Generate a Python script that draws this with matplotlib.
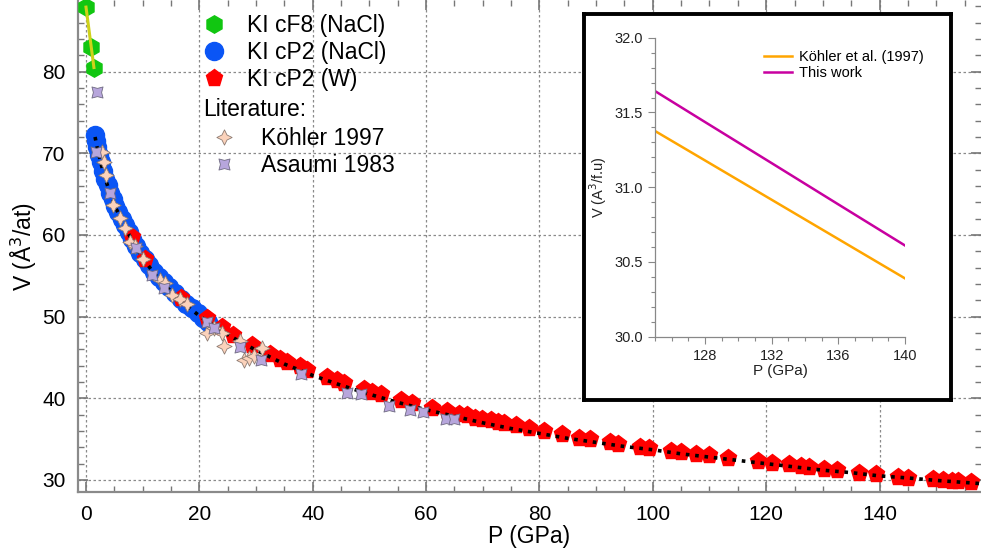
import numpy as np
import matplotlib
matplotlib.use("Agg")
import matplotlib.pyplot as plt
from matplotlib.path import Path
from matplotlib.lines import Line2D

plt.rcParams['font.family'] = ['Liberation Sans', 'DejaVu Sans']

# ---------------- data ----------------
cf8_P = [0.0, 0.9, 1.4]
cf8_V = [87.9, 83.0, 80.5]

cp2nacl_P = [1.6, 1.8, 2.0, 2.3, 2.6, 3.0, 3.4, 3.8, 4.2, 4.7, 5.2, 5.7, 6.3, 6.9, 7.5,
             8.2, 8.9, 9.6, 10.4, 11.2, 12.0, 12.9, 13.8, 14.7, 15.7, 16.7, 17.7, 18.7,
             19.7, 20.7, 21.5]
cp2nacl_V = [72.3, 71.5, 70.8, 69.8, 68.9, 67.8, 66.9, 66.1, 65.2, 64.4, 63.5, 62.8, 62.0,
             61.2, 60.4, 59.5, 58.6, 57.8, 57.0, 56.3, 55.5, 54.8, 54.2, 53.6, 52.9, 52.2,
             51.5, 51.0, 50.4, 49.8, 49.3]

cp2w_P = [8.1, 10.4, 16.8, 21.4, 24.0, 26.0, 29.3, 32.5, 34.3, 35.5, 37.8, 39.0, 42.5, 44.3,
          45.5, 49.0, 50.5, 52.0, 55.5, 57.5, 61.1, 63.7, 65.8, 67.3, 68.7, 69.9, 71.4, 72.6,
          73.7, 75.8, 78.1, 80.8, 83.9, 87.0, 89.0, 92.5, 93.8, 97.8, 99.3, 103.2, 104.9,
          107.6, 110.0, 113.3, 118.5, 121.0, 124.1, 126.1, 127.6, 130.2, 132.5, 136.3, 139.4,
          143.2, 145.1, 149.4, 151.2, 152.7, 153.8, 156.2]
cp2w_V = [59.8, 57.0, 52.3, 49.8, 48.7, 47.8, 46.5, 45.4, 44.8, 44.5, 43.9, 43.5, 42.6, 42.2,
          41.9, 41.1, 40.8, 40.5, 39.8, 39.4, 38.8, 38.4, 38.1, 37.9, 37.6, 37.5, 37.3, 37.1,
          37.0, 36.7, 36.4, 36.0, 35.6, 35.2, 35.0, 34.6, 34.4, 34.1, 33.9, 33.6, 33.4,
          33.2, 33.0, 32.7, 32.3, 32.1, 31.9, 31.7, 31.6, 31.4, 31.2, 30.9, 30.7,
          30.4, 30.3, 30.1, 30.0, 29.9, 29.9, 29.7]

fit_P = [1.6, 2, 3, 4, 5, 6, 7, 8, 9, 10, 12, 14, 16, 18, 20, 22.5, 25, 27.5, 30, 35, 40, 45,
         50, 55, 60, 65, 70, 75, 80, 85, 90, 95, 100, 105, 110, 115, 120, 125, 130, 135, 140,
         145, 150, 155, 158]
fit_V = [72.0, 70.6, 67.8, 65.6, 63.7, 62.2, 60.8, 59.5, 58.3, 57.2, 55.3, 53.8, 52.4, 51.2,
         50.1, 48.9, 47.8, 46.8, 45.9, 44.2, 42.8, 41.6, 40.5, 39.5, 38.6, 37.8, 37.0, 36.3,
         35.7, 35.1, 34.6, 34.1, 33.7, 33.2, 32.8, 32.4, 32.0, 31.6, 31.2, 30.9, 30.5,
         30.25, 29.95, 29.7, 29.55]

kohler_P = [2.8, 3.1, 3.6, 4.8, 6.0, 6.9, 7.8, 8.7, 10.1, 13.1, 14.0, 15.1, 16.6, 17.8, 21.3,
            22.5, 24.0, 24.3, 27.2, 27.8, 28.7, 29.6, 31.0]
kohler_V = [70.1, 68.9, 67.4, 63.7, 62.1, 60.9, 59.2, 58.6, 57.1, 54.5, 54.1, 52.6, 52.1, 51.5,
            48.0, 48.6, 48.0, 46.4, 47.0, 44.7, 44.9, 45.2, 46.1]

asaumi_P = [1.9, 1.7, 4.2, 8.9, 11.6, 13.7, 21.4, 22.5, 27.1, 30.8, 37.9, 46.1, 48.6, 53.5,
            57.1, 59.5, 63.5, 65.0]
asaumi_V = [77.5, 70.1, 65.1, 58.4, 55.1, 53.5, 49.3, 48.6, 46.3, 44.7, 43.0, 40.6, 40.5, 39.1,
            38.6, 38.3, 37.5, 37.5]

inset_P = [125, 128, 132, 136, 140]
inset_kohler = [31.376, 31.179, 30.916, 30.653, 30.39]
inset_this = [31.643, 31.436, 31.161, 30.885, 30.61]

# ---------------- markers ----------------
star4 = Path([(0, 1), (0.33, 0.33), (1, 0), (0.33, -0.33), (0, -1), (-0.33, -0.33),
              (-1, 0), (-0.33, 0.33), (0, 1)], closed=True)
sq4 = Path([(1, 1), (0, 0.74), (-1, 1), (-0.74, 0), (-1, -1), (0, -0.74), (1, -1),
            (0.74, 0), (1, 1)], closed=True)

GREEN = '#11c611'
BLUE = '#0a55f5'
RED = '#ff0000'
PEACH = '#fbd2bb'
LAV = '#b7a6dc'

fig = plt.figure(figsize=(9.81, 5.53), dpi=100)
ax = fig.add_axes([78 / 981, 1 - 492 / 553, 1 - 78 / 981, 492 / 553])
ax.set_xlim(-1.41, 157.9)
ax.set_ylim(28.53, 88.77)

ax.plot(cp2nacl_P, cp2nacl_V, ls='none', marker='o', ms=13, mfc=BLUE, mec=BLUE, zorder=2)
ax.plot(cp2w_P, cp2w_V, ls='none', marker='p', ms=12.5, mfc=RED, mec=RED, zorder=3)
ax.plot(fit_P, fit_V, ls=(0, (1, 1.6)), color='black', lw=2.6, zorder=4)
ax.plot(kohler_P, kohler_V, ls='none', marker=star4, ms=11, mfc=PEACH, mec='#8d7b72',
        mew=0.6, zorder=5)
ax.plot(asaumi_P, asaumi_V, ls='none', marker=sq4, ms=8, mfc=LAV, mec='#6f6a82',
        mew=0.6, zorder=6)
ax.plot(cf8_P, cf8_V, ls='none', marker='h', ms=12.5, mfc=GREEN, mec=GREEN, zorder=6)
ax.plot([cf8_P[0], cf8_P[-1]], [cf8_V[0], cf8_V[-1]], color='#cfd21a', lw=2.2, zorder=7)

ax.set_xticks(np.arange(0, 141, 20))
ax.set_xticks(np.arange(0, 158, 5), minor=True)
ax.set_yticks(np.arange(30, 81, 10))
ax.set_yticks(np.arange(30, 89, 2), minor=True)
ax.grid(True, which='major', ls=(0, (2, 2)), color='#8a8a8a', lw=0.9)
ax.set_axisbelow(True)
for s in ['top', 'right']:
    ax.spines[s].set_visible(False)
for s in ['left', 'bottom']:
    ax.spines[s].set_color('#8a8a8a')
    ax.spines[s].set_linewidth(1.6)
ax.tick_params(which='both', direction='in', color='#777777', top=True, right=True,
               labelsize=15, pad=9)
ax.tick_params(which='major', length=7, width=1.2)
ax.tick_params(which='minor', length=4, width=1.0)
ax.set_xlabel('P (GPa)', fontsize=16.5, labelpad=1)
ax.set_ylabel('V (Å$^3$/at)', fontsize=16.5, labelpad=2)

# legends
h1 = [Line2D([], [], ls='none', marker='h', ms=12.5, mfc=GREEN, mec=GREEN),
      Line2D([], [], ls='none', marker='o', ms=13, mfc=BLUE, mec=BLUE),
      Line2D([], [], ls='none', marker='p', ms=12.5, mfc=RED, mec=RED)]
leg1 = ax.legend(h1, ['KI cF8 (NaCl)', 'KI cP2 (NaCl)', 'KI cP2 (W)'], frameon=False,
                 fontsize=16.5, loc='upper left',
                 bbox_to_anchor=(203 / 981, 1 - 14 / 553), bbox_transform=fig.transFigure,
                 borderpad=0, borderaxespad=0, handlelength=1.0, handletextpad=0.9,
                 labelspacing=0.17)
ax.add_artist(leg1)
fig.text(203 / 981, 1 - 110 / 553, 'Literature:', fontsize=16.5, va='center', ha='left')
h2 = [Line2D([], [], ls='none', marker=star4, ms=11, mfc=PEACH, mec='#8d7b72', mew=0.6),
      Line2D([], [], ls='none', marker=sq4, ms=8, mfc=LAV, mec='#6f6a82', mew=0.6)]
ax.legend(h2, ['Köhler 1997', 'Asaumi 1983'], frameon=False, fontsize=16.5,
          loc='upper left', bbox_to_anchor=(213 / 981, 1 - 127 / 553),
          bbox_transform=fig.transFigure, borderpad=0, borderaxespad=0,
          handlelength=1.0, handletextpad=1.1, labelspacing=0.17)

# inset box
box = fig.add_axes([584 / 981, 1 - 400 / 553, (951 - 584) / 981, (400 - 14) / 553])
box.set_xticks([]); box.set_yticks([])
box.set_facecolor('white')
for s in box.spines.values():
    s.set_linewidth(2.8)
    s.set_color('black')
box.set_zorder(10)

ins = fig.add_axes([655 / 981, 1 - 336.7 / 553, (905 - 655) / 981, (336.7 - 37.7) / 553])
ins.set_zorder(11)
ins.patch.set_alpha(0)
ins.plot(inset_P, inset_kohler, color='#ffa500', lw=1.8, label='Köhler et al. (1997)')
ins.plot(inset_P, inset_this, color='#c800a0', lw=1.8, label='This work')
ins.set_xlim(125, 140)
ins.set_ylim(30.0, 32.0)
ins.set_xticks([128, 132, 136, 140])
ins.set_xticks(np.arange(125, 141, 1), minor=True)
ins.set_yticks([30.0, 30.5, 31.0, 31.5, 32.0])
ins.set_yticks(np.arange(30.0, 32.01, 0.1), minor=True)
ins.yaxis.set_major_formatter(matplotlib.ticker.FormatStrFormatter('%.1f'))
for s in ['top', 'right']:
    ins.spines[s].set_visible(False)
for s in ['left', 'bottom']:
    ins.spines[s].set_color('#888888')
    ins.spines[s].set_linewidth(0.9)
ins.tick_params(which='both', direction='out', color='#888888', labelsize=10.5, width=0.8,
                labelcolor='#222222')
ins.tick_params(which='major', length=5)
ins.tick_params(which='minor', length=3)
ins.set_xlabel('P (GPa)', fontsize=11, labelpad=1, color='#222222')
ins.set_ylabel('V (A$^3$/f.u)', fontsize=10.5, labelpad=4, color='#222222')
ins.legend(frameon=False, fontsize=10.5, loc='upper left',
           bbox_to_anchor=(764 / 981, 1 - 50 / 553), bbox_transform=fig.transFigure,
           borderpad=0, borderaxespad=0, handlelength=1.9, handletextpad=0.5,
           labelspacing=0.15)

fig.savefig('out.png', dpi=100)
